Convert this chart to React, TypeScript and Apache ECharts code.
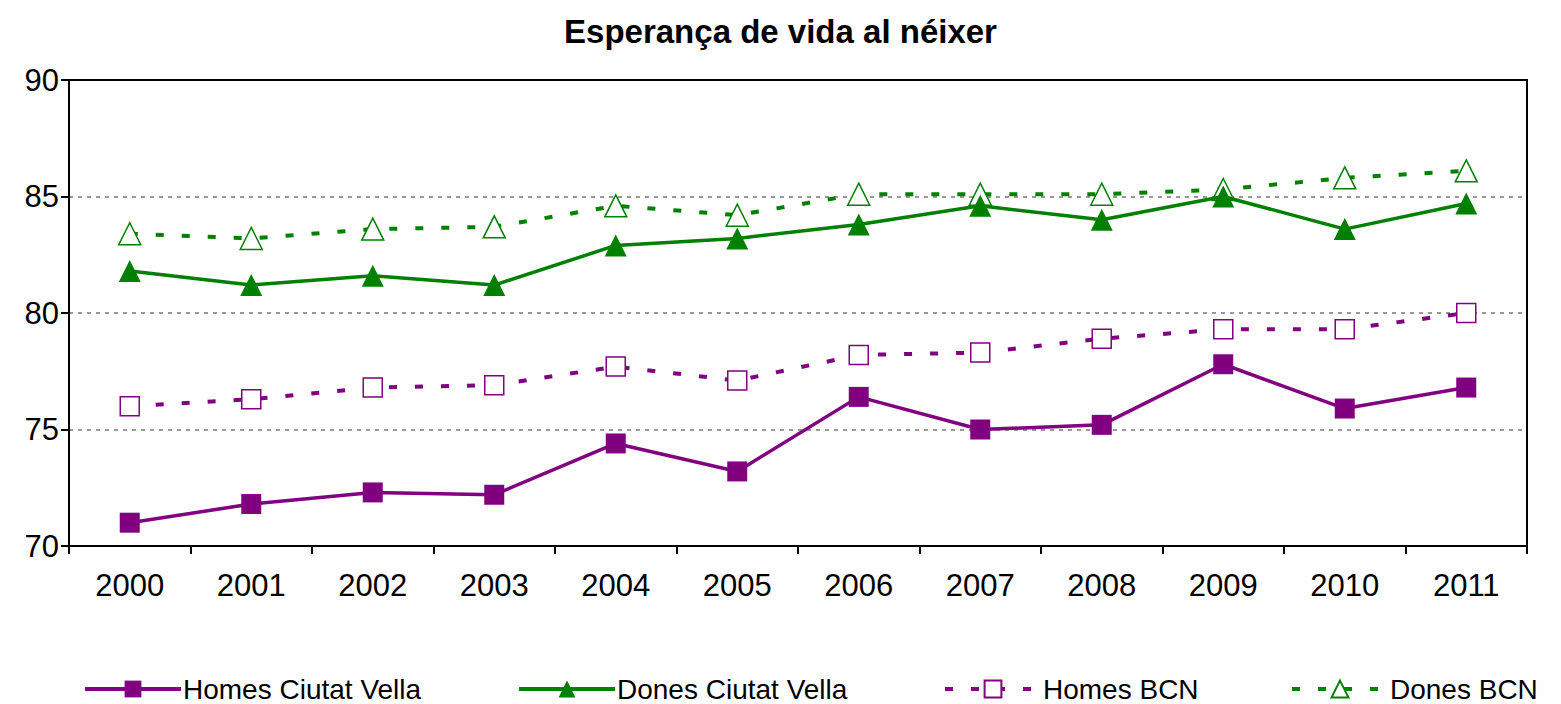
import React, { useEffect, useRef } from "react";
import * as echarts from "echarts";

const years = ["2000", "2001", "2002", "2003", "2004", "2005", "2006", "2007", "2008", "2009", "2010", "2011"];
const homesCV = [71.0, 71.8, 72.3, 72.2, 74.4, 73.2, 76.4, 75.0, 75.2, 77.8, 75.9, 76.8];
const donesCV = [81.8, 81.2, 81.6, 81.2, 82.9, 83.2, 83.8, 84.6, 84.0, 85.0, 83.6, 84.7];
const homesBCN = [76.0, 76.3, 76.8, 76.9, 77.7, 77.1, 78.2, 78.3, 78.9, 79.3, 79.3, 80.0];
const donesBCN = [83.4, 83.2, 83.6, 83.7, 84.6, 84.2, 85.1, 85.1, 85.1, 85.3, 85.8, 86.1];
const seriesNames = ["Homes Ciutat Vella", "Dones Ciutat Vella", "Homes BCN", "Dones BCN"];

const PURPLE = "#800080";
const GREEN = "#008000";
const FONT = "Liberation Sans, Arial, sans-serif";

export default function App() {
  const ref = useRef<HTMLDivElement>(null);
  useEffect(() => {
    if (!ref.current) return;
    const chart = echarts.init(ref.current, undefined, { renderer: "svg" });
    const legendLefts = [83, 517, 943, 1290];
    chart.setOption({
      animation: false,
      backgroundColor: "#fff",
      title: {
        text: "Esperança de vida al néixer",
        left: "center",
        top: 10,
        textStyle: { fontFamily: FONT, fontSize: 33, fontWeight: "bold", color: "#000" },
      },
      legend: seriesNames.map((n, i) => ({
        left: legendLefts[i],
        top: 675,
        padding: 0,
        itemWidth: 96,
        itemHeight: 21,
        lineStyle: { width: 4 },
        textStyle: { fontFamily: FONT, fontSize: 28, lineHeight: 28, color: "#000", padding: [0, 0, 0, -3] },
        data: [n],
      })),
      grid: { left: 69, right: 34, top: 80, bottom: 158, show: true, borderColor: "#000", borderWidth: 2 },
      xAxis: {
        type: "category",
        data: years,
        boundaryGap: true,
        axisLine: { lineStyle: { color: "#000", width: 2 } },
        axisTick: { show: true, length: 8, lineStyle: { color: "#000", width: 2 } },
        axisLabel: { fontFamily: FONT, fontSize: 31, color: "#000", margin: 24 },
      },
      yAxis: {
        type: "value",
        min: 70,
        max: 90,
        interval: 5,
        axisLine: { show: true, lineStyle: { color: "#000", width: 2 } },
        axisTick: { show: true, length: 8, lineStyle: { color: "#000", width: 2 } },
        axisLabel: { fontFamily: FONT, fontSize: 31, color: "#000", margin: 10 },
        splitLine: { showMinLine: false, showMaxLine: false, lineStyle: { color: "#999", width: 2, type: [4, 5] } },
      },
      series: [
        {
          name: seriesNames[0],
          type: "line",
          data: homesCV,
          z: 4,
          symbol: "rect",
          symbolSize: 20,
          lineStyle: { color: PURPLE, width: 3.5 },
          itemStyle: { color: PURPLE },
        },
        {
          name: seriesNames[1],
          type: "line",
          data: donesCV,
          z: 4,
          symbol: "triangle",
          symbolSize: 22,
          lineStyle: { color: GREEN, width: 3.5 },
          itemStyle: { color: GREEN },
        },
        {
          name: seriesNames[2],
          type: "line",
          data: homesBCN,
          z: 3,
          symbol: "rect",
          symbolSize: 19,
          lineStyle: { color: PURPLE, width: 4, type: [8, 18] },
          itemStyle: { color: "#fff", borderColor: PURPLE, borderWidth: 1.5 },
        },
        {
          name: seriesNames[3],
          type: "line",
          data: donesBCN,
          z: 3,
          symbol: "triangle",
          symbolSize: 22,
          lineStyle: { color: GREEN, width: 4, type: [8, 18] },
          itemStyle: { color: "#fff", borderColor: GREEN, borderWidth: 1.5 },
        },
      ],
    });
    return () => chart.dispose();
  }, []);
  return <div ref={ref} style={{ width: 1561, height: 704, position: "absolute", left: 0, top: 0 }} />;
}
